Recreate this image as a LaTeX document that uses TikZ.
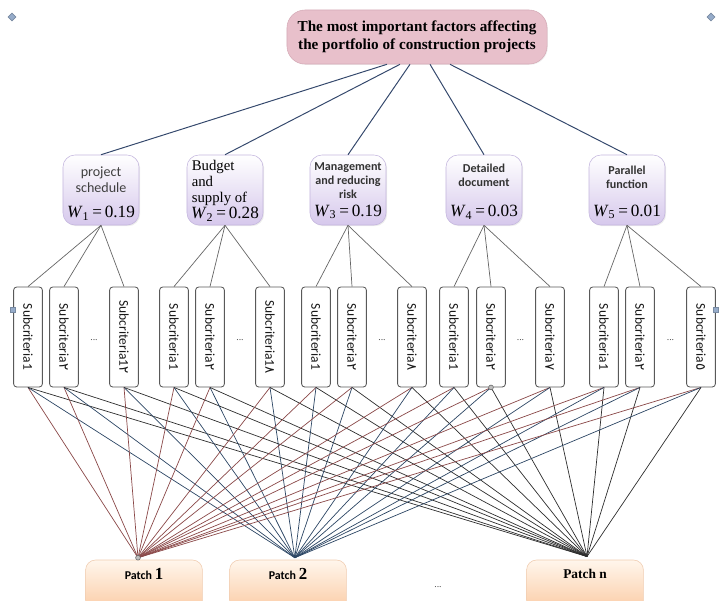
\documentclass[tikz,border=0pt]{standalone}
\usepackage{fontspec}
\setmainfont{Liberation Serif}
\setsansfont{Carlito}
\newfontfamily\digitfont{DejaVu Sans}
\usetikzlibrary{positioning,calc,shapes.geometric,shadows}
\definecolor{goalpink}{RGB}{232,192,203}
\definecolor{goalline}{RGB}{214,172,184}
\definecolor{critlav}{RGB}{214,200,236}
\definecolor{critline}{RGB}{196,182,222}
\definecolor{patchtop}{RGB}{255,246,236}
\definecolor{patchbot}{RGB}{251,204,166}
\definecolor{patchline}{RGB}{240,204,176}
\definecolor{linkblue}{RGB}{52,72,108}
\definecolor{linkred}{RGB}{138,72,72}
\definecolor{linkslate}{RGB}{44,70,100}
\definecolor{linkdark}{RGB}{45,45,45}
\definecolor{handle}{RGB}{150,172,202}
\newcommand{\wlabel}[2]{\textit{W}\textsubscript{#1}\,=\,#2}
\newcommand{\pd}[1]{{\digitfont #1}}

\begin{document}
\begin{tikzpicture}[x=0.025cm,y=-0.025cm,
  goalbox/.style={draw=goalline,fill=goalpink,rounded corners=0.45cm,minimum width=6.5cm,minimum height=1.35cm,
    align=center,font=\fontsize{10.8}{12.5}\selectfont\bfseries,drop shadow={shadow xshift=0.6pt,shadow yshift=-0.6pt,fill=black!12}},
  critbox/.style={draw=critline,top color=white,bottom color=critlav,rounded corners=0.3cm,minimum width=1.9cm,minimum height=1.75cm,
    drop shadow={shadow xshift=0.8pt,shadow yshift=-0.8pt,fill=black!15}},
  crittext/.style={align=center,font=\sffamily\fontsize{10}{11}\selectfont,text=black!75,inner sep=0pt},
  critbold/.style={align=center,font=\sffamily\bfseries\fontsize{8.6}{9.8}\selectfont,text=black!80,inner sep=0pt},
  wtext/.style={font=\fontsize{12.2}{14}\selectfont,inner sep=0pt},
  subbox/.style={draw=black!65,fill=white,rounded corners=0.08cm,minimum width=0.72cm,minimum height=2.5cm,line width=0.6pt},
  subtext/.style={rotate=-90,font=\sffamily\fontsize{9.6}{10}\selectfont,text=black!90},
  patchbox/.style={draw=patchline,top color=patchtop,bottom color=patchbot,rounded corners=0.25cm,minimum width=2.92cm,minimum height=1.25cm},
  patchtext/.style={font=\sffamily\bfseries\fontsize{8.5}{10}\selectfont,inner sep=0pt},
  dots/.style={font=\fontsize{7}{7}\selectfont,text=black!70},
  toplink/.style={draw=linkblue,line width=0.7pt},
  sublink/.style={draw=black!60,line width=0.5pt},
  handlebox/.style={draw=handle!80!black,fill=handle,inner sep=0pt,minimum size=0.13cm}]

\useasboundingbox (0,0) rectangle (721,600);
\clip (0,0) rectangle (721,600);

% goal
\node[goalbox] (goal) at (417,37) {The most important factors affecting\\the portfolio of construction projects};

% criteria
\node[critbox] (c1) at (101,190) {};
\node[crittext,below=0.3cm of c1.north,anchor=north] (t1) {project\\schedule};
\node[wtext,above=0.12cm of c1.south] (w1) {\wlabel{1}{0.19}};

\node[critbox] (c2) at (225,190) {};
\node[wtext,above=0.1cm of c2.south] (w2) {\wlabel{2}{0.28}};
\node[align=left,inner sep=0pt,font=\fontsize{10.5}{11.4}\selectfont,below right=0.14cm and 0.12cm of c2.north west] (t2) {Budget\\and\\supply of};

\node[critbox] (c3) at (348,190) {};
\node[critbold,below=0.2cm of c3.north,anchor=north] (t3) {Management\\and reducing\\risk};
\node[wtext,above=0.15cm of c3.south] (w3) {\wlabel{3}{0.19}};

\node[critbox] (c4) at (484,190) {};
\node[critbold,below=0.22cm of c4.north,anchor=north] (t4) {Detailed\\document};
\node[wtext,above=0.15cm of c4.south] (w4) {\wlabel{4}{0.03}};

\node[critbox] (c5) at (627,190) {};
\node[critbold,below=0.28cm of c5.north,anchor=north] (t5) {Parallel\\function};
\node[wtext,above=0.15cm of c5.south] (w5) {\wlabel{5}{0.01}};

\foreach \i/\s in {1/-30,2/-17,3/-7,4/13,5/33}
  \draw[toplink] (c\i.north) -- ([xshift=\s*0.025cm]goal.south);

% subcriteria
\foreach \k/\x/\lbl in {
    1/28/1, 2/64/\pd{٢}, 3/124/1\pd{٢},
    4/174/1, 5/210/\pd{٢}, 6/270/1\pd{٨},
    7/316/1, 8/352/\pd{٢}, 9/412/\pd{٨},
    10/454/1, 11/491/\pd{٢}, 12/550/\pd{٧},
    13/604/1, 14/640/\pd{٢}, 15/701/\pd{٥}}{
  \node[subbox] (s\k) at (\x,337) {};
  \node[subtext] at (s\k) {Subcriteria\lbl};
}
\foreach \c in {1,...,5}
  \foreach \j in {1,2,3}{
    \pgfmathtruncatemacro\k{3*(\c-1)+\j}
    \draw[sublink] (c\c.south) -- (s\k.north);
  }
\foreach \a/\b [count=\n] in {2/3,5/6,8/9,11/12,14/15}
  \node[dots] (d\n) at ($(s\a)!0.5!(s\b)+(0,3)$) {...};

% patches
\node[patchbox] (p1) at (144,585) {};
\node[patchbox] (p2) at (288,585) {};
\node[patchbox] (pn) at (585,585) {};
\node[patchtext,below=0.22cm of p1.north] (l1) {Patch \textrm{\fontsize{12}{12}\selectfont 1}};
\node[patchtext,below=0.2cm of p2.north] (l2) {Patch \textrm{\fontsize{12}{12}\selectfont 2}};
\node[font=\bfseries\fontsize{9.5}{11}\selectfont,inner sep=0pt,below=0.22cm of pn.north] (ln) {Patch n};
\node[dots] (dp) at (438,587) {...};

\foreach \k in {1,...,15}{
  \draw[draw=linkred,line width=0.5pt] (s\k.south) -- ([xshift=-0.15cm,yshift=0.05cm]p1.north);
  \draw[draw=linkslate,line width=0.5pt] (s\k.south) -- ([xshift=0.17cm,yshift=0.05cm]p2.north);
  \draw[draw=linkdark,line width=0.5pt] (s\k.south) -- ([xshift=0.05cm,yshift=0.08cm]pn.north);
}

% selection handles
\node[handlebox,diamond,minimum size=0.2cm] (h1) at (12,17) {};
\node[handlebox,diamond,minimum size=0.2cm] (h2) at (711,17) {};
\node[handlebox] (h3) at (s1.west |- 0,310) {};
\node[handlebox] (h4) at (s15.east |- 0,310) {};
\node[circle,draw=black!60,fill=black!25,inner sep=0pt,minimum size=0.12cm] (h5) at ([xshift=-0.15cm,yshift=0.05cm]p1.north) {};
\node[circle,draw=black!60,fill=black!25,inner sep=0pt,minimum size=0.12cm] (h6) at (s11.south) {};
\end{tikzpicture}
\end{document}
